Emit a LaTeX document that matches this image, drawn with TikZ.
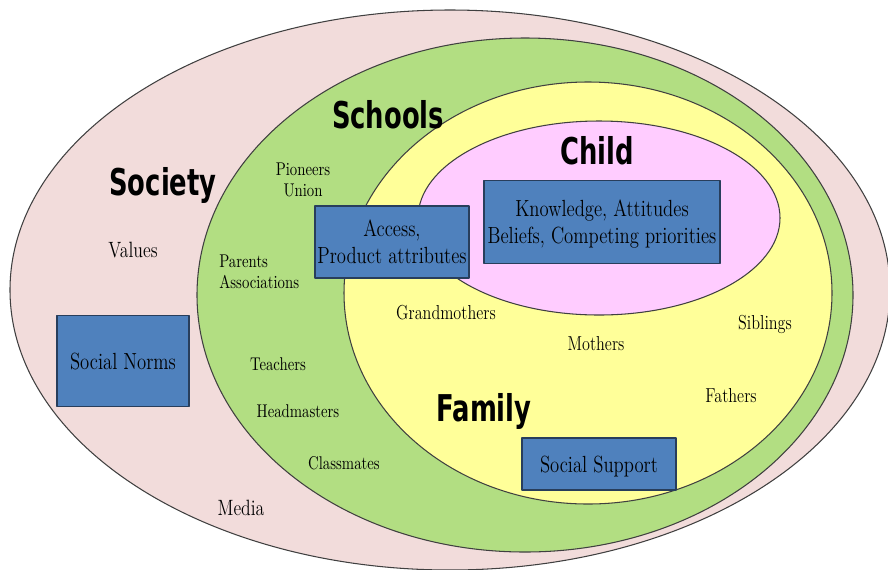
\documentclass[tikz,border=0pt]{standalone}
\usepackage{fontspec}
\setmainfont{Latin Modern Roman}[FakeStretch=0.8]
\newfontfamily\headfont{DejaVu Sans}[FakeStretch=0.7]
\definecolor{societypink}{RGB}{242,220,219}
\definecolor{schoolgreen}{RGB}{178,222,130}
\definecolor{familyyellow}{RGB}{255,255,153}
\definecolor{childpink}{RGB}{255,204,255}
\definecolor{boxblue}{RGB}{79,129,189}
\definecolor{boxedge}{RGB}{40,62,92}
\begin{document}
\begin{tikzpicture}[x=0.02cm,y=-0.02cm,line join=round,
	ring/.style={draw=black!75,line width=0.6pt},
	head/.style={inner sep=0pt,font=\headfont\bfseries\fontsize{21}{24}\selectfont},
	soc/.style={inner sep=0pt,align=center,font=\fontsize{12.6}{14}\selectfont},
	sch/.style={inner sep=0pt,align=center,font=\fontsize{10.5}{12.2}\selectfont},
	fam/.style={inner sep=0pt,align=center,font=\fontsize{11.5}{13}\selectfont},
	bluebox/.style={draw=boxedge,fill=boxblue,line width=0.8pt,inner sep=0pt,text depth=0pt,align=center,font=\fontsize{13.3}{15.3}\selectfont}]
	\useasboundingbox (0,0) rectangle (888,569);
	% nested rings
	\draw[ring,fill=societypink] (450,290) ellipse [x radius=440,y radius=280];
	\draw[ring,fill=schoolgreen] (525,295) ellipse [x radius=328,y radius=257];
	\draw[ring,fill=familyyellow] (588,293) ellipse [x radius=244,y radius=211];
	\draw[ring,fill=childpink] (599,218) ellipse [x radius=181,y radius=97];
	% ring titles
	\node[head] (society) at (163,185) {Society};
	\node[head] (schools) at (388,115) {Schools};
	\node[head] (child) at (597,151) {Child};
	\node[head] (family) at (484,411) {Family};
	% boxes
	\node[bluebox,minimum width=3.08cm,minimum height=1.44cm] (access) at (392,242) {Access,\\Product attributes};
	\node[bluebox,minimum width=4.72cm,minimum height=1.66cm] (knowledge) at (602,222) {Knowledge, Attitudes\\Beliefs, Competing priorities};
	\node[bluebox,minimum width=2.64cm,minimum height=1.82cm] (norms) at (123,361) {Social Norms};
	\node[bluebox,minimum width=3.08cm,minimum height=1.04cm] (support) at (599,464) {Social Support};
	% society
	\node[soc] (values) at (133,250) {Values};
	\node[soc] (media) at (241,508) {Media};
	% schools
	\node[sch] (pioneers) at (303,180) {Pioneers\\Union};
	\node[sch,anchor=west,align=left] (parents) at (219,272) {Parents\\Associations};
	\node[sch] (teachers) at (278,364) {Teachers};
	\node[sch] (headmasters) at (298,411) {Headmasters};
	\node[sch] (classmates) at (344,463) {Classmates};
	% family
	\node[fam] (grandmothers) at (446,313) {Grandmothers};
	\node[fam] (mothers) at (596,344) {Mothers};
	\node[fam] (siblings) at (765,324) {Siblings};
	\node[fam] (fathers) at (731,396) {Fathers};
\end{tikzpicture}
\end{document}
